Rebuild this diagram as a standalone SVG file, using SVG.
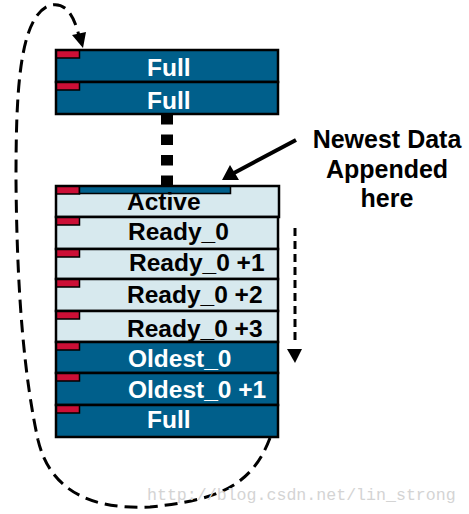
<svg xmlns="http://www.w3.org/2000/svg" width="469" height="514" viewBox="0 0 469 514">
<style>
.blk{stroke:#000;stroke-width:2.5}
.dark{fill:#005f8b}
.light{fill:#d7e9ee}
.tab{fill:#cc0f36;stroke:#000;stroke-width:1.5}
.lbl{font-family:"Liberation Sans",Arial,sans-serif;font-weight:bold;font-size:24.5px}
.note{font-size:25px}
.w{fill:#fff}
.k{fill:#000}
.dash{fill:none;stroke:#000;stroke-width:3;stroke-dasharray:13 7}
</style>
<rect width="469" height="514" fill="#fff"/>
<g id="full1"><rect class="blk dark" x="56" y="50" width="222" height="32"/><rect class="tab" x="56.5" y="50.5" width="23" height="7.5"/><text class="lbl w" x="147" y="76">Full</text></g>
<g id="full2"><rect class="blk dark" x="56" y="82" width="222" height="32"/><rect class="tab" x="56.5" y="82.5" width="23" height="7.5"/><text class="lbl w" x="147" y="109">Full</text></g>
<g id="active"><rect class="blk light" x="56" y="186" width="223" height="31"/><rect class="tab" x="56.5" y="186.5" width="23" height="7.5"/><rect x="79.5" y="186.5" width="151" height="7" fill="#005f8b" stroke="#000" stroke-width="1.5"/><text class="lbl k" x="127" y="210">Active</text></g>
<g id="ready0"><rect class="blk light" x="56" y="217" width="222" height="32"/><rect class="tab" x="56.5" y="217.5" width="23" height="7.5"/><text class="lbl k" x="128" y="240">Ready_0</text></g>
<g id="ready1"><rect class="blk light" x="56" y="249" width="222" height="30"/><rect class="tab" x="56.5" y="249.5" width="23" height="7.5"/><text class="lbl k" x="129" y="271">Ready_0 +1</text></g>
<g id="ready2"><rect class="blk light" x="56" y="279" width="222" height="32"/><rect class="tab" x="56.5" y="279.5" width="23" height="7.5"/><text class="lbl k" x="127" y="303">Ready_0 +2</text></g>
<g id="ready3"><rect class="blk light" x="56" y="311" width="222" height="31"/><rect class="tab" x="56.5" y="311.5" width="23" height="7.5"/><text class="lbl k" x="127" y="337">Ready_0 +3</text></g>
<g id="oldest0"><rect class="blk dark" x="56" y="342" width="222" height="31"/><rect class="tab" x="56.5" y="342.5" width="23" height="7.5"/><text class="lbl w" x="128" y="367">Oldest_0</text></g>
<g id="oldest1"><rect class="blk dark" x="56" y="373" width="222" height="32"/><rect class="tab" x="56.5" y="373.5" width="23" height="7.5"/><text class="lbl w" x="128" y="398">Oldest_0 +1</text></g>
<g id="full3"><rect class="blk dark" x="56" y="405" width="222" height="32"/><rect class="tab" x="56.5" y="405.5" width="23" height="7.5"/><text class="lbl w" x="147" y="428">Full</text></g>
<g id="note"><text class="lbl note k" text-anchor="middle" x="387" y="148">Newest Data</text><text class="lbl note k" text-anchor="middle" x="387" y="178">Appended</text><text class="lbl note k" text-anchor="middle" x="387" y="207">here</text></g>
<g id="connectors">
<line x1="167" y1="114" x2="167" y2="186" stroke="#000" stroke-width="12" stroke-dasharray="10.5 10"/>
<line x1="296" y1="140" x2="234" y2="173" stroke="#000" stroke-width="4"/>
<polygon points="222,180 230,165 239,180"/>
<line x1="295" y1="228" x2="295" y2="345" stroke="#000" stroke-width="3" stroke-dasharray="8 5"/>
<polygon points="287,349 302,349 295,363"/>
<path class="dash" d="M270 438 C252 485 220 500 150 507 C90 510 50 490 38 440 C25 380 17 300 16 180 C16 100 18 20 48 6 C65 0 74 15 79 36"/>
<polygon points="83,48 72,35 86,32"/>
</g>
<text x="147" y="500" font-family="'Liberation Mono','DejaVu Sans Mono',monospace" font-size="16.6" fill="#d4d4d4">http://blog.csdn.net/lin_strong</text>
</svg>
